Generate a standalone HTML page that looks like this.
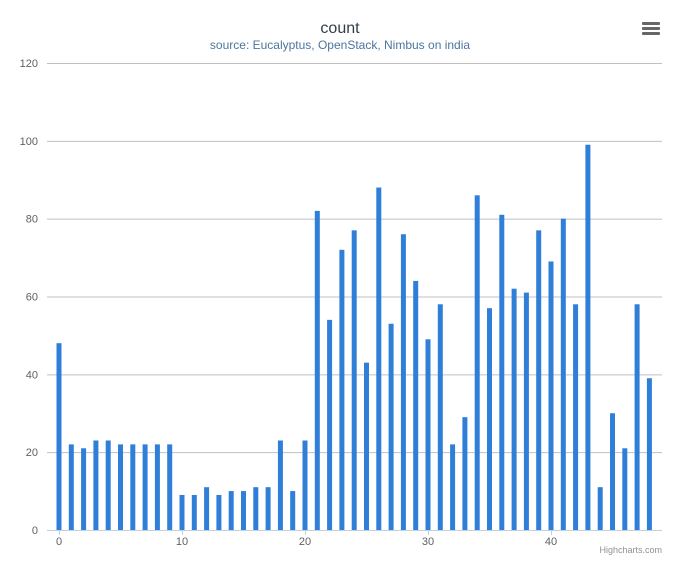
<!DOCTYPE html>
<html><head><meta charset="utf-8"><style>
body{margin:0;background:#fff;font-family:"Liberation Sans","DejaVu Sans",sans-serif}
svg text{font-family:"Liberation Sans","DejaVu Sans",sans-serif}
</style></head><body>
<svg id="chart" width="680" height="566" xmlns="http://www.w3.org/2000/svg">
<rect width="680" height="566" fill="#fff"/>
<text x="340" y="33" text-anchor="middle" font-size="16" fill="#333e48">count</text>
<text x="340" y="49" text-anchor="middle" font-size="12" fill="#4d759e">source: Eucalyptus, OpenStack, Nimbus on india</text>
<g>
<rect x="642" y="22" width="18" height="3" rx="1" fill="#666"/>
<rect x="642" y="27" width="18" height="3" rx="1" fill="#666"/>
<rect x="642" y="32" width="18" height="3" rx="1" fill="#666"/>
</g>
<g id="grid"></g><g id="bars"></g><g id="axes"></g>
<text x="662" y="553" text-anchor="end" font-size="9" fill="#909090">Highcharts.com</text>
</svg>
<script>
const categories = Array.from({length:49},(_,i)=>i);
const counts = [48,22,21,23,23,22,22,22,22,22,9,9,11,9,10,10,11,11,23,10,23,82,54,72,77,43,88,53,76,64,49,58,22,29,86,57,81,62,61,77,69,80,58,99,11,30,21,58,39];
const yTicks = [0,20,40,60,80,100,120];
const xTicks = [0,10,20,30,40];
const NS="http://www.w3.org/2000/svg";
const plotL=47, plotR=662, plotT=63, plotB=530;
const y = v => plotB - v*(plotB-plotT)/120;
const x = v => 59 + v*12.3;
function mk(tag,attrs,parent){const e=document.createElementNS(NS,tag);for(const k in attrs)e.setAttribute(k,attrs[k]);parent.appendChild(e);return e;}
const grid=document.getElementById('grid'), bars=document.getElementById('bars'), axes=document.getElementById('axes');
yTicks.forEach(t=>{
  const l=mk('line',{x1:plotL,x2:plotR,y1:y(t)+0.5,y2:y(t)+0.5,stroke:'#c0c0c0','stroke-width':1},grid);
  
  
  const tx=mk('text',{x:38,y:y(t)+4,'text-anchor':'end','font-size':11,fill:'#606060'},axes);
  tx.textContent=t;
  
  
});
const ax=mk('line',{x1:plotL,x2:plotR,y1:plotB+0.5,y2:plotB+0.5,stroke:'#c0d0e0'},axes);


xTicks.forEach(t=>{
  const tk=mk('line',{x1:x(t)+0.5,x2:x(t)+0.5,y1:plotB,y2:plotB+5,stroke:'#c0d0e0'},axes);
  
  
  const tx=mk('text',{x:x(t),y:plotB+15,'text-anchor':'middle','font-size':11,fill:'#606060'},axes);
  tx.textContent=t;
  
  
});
categories.forEach((c,i)=>{
  const v=counts[i];
  const r=mk('rect',{x:x(c)-2.5,y:y(v),width:5,height:plotB-y(v),fill:'#2f7ed8'},bars);
  
  
});
</script>
</body></html>
